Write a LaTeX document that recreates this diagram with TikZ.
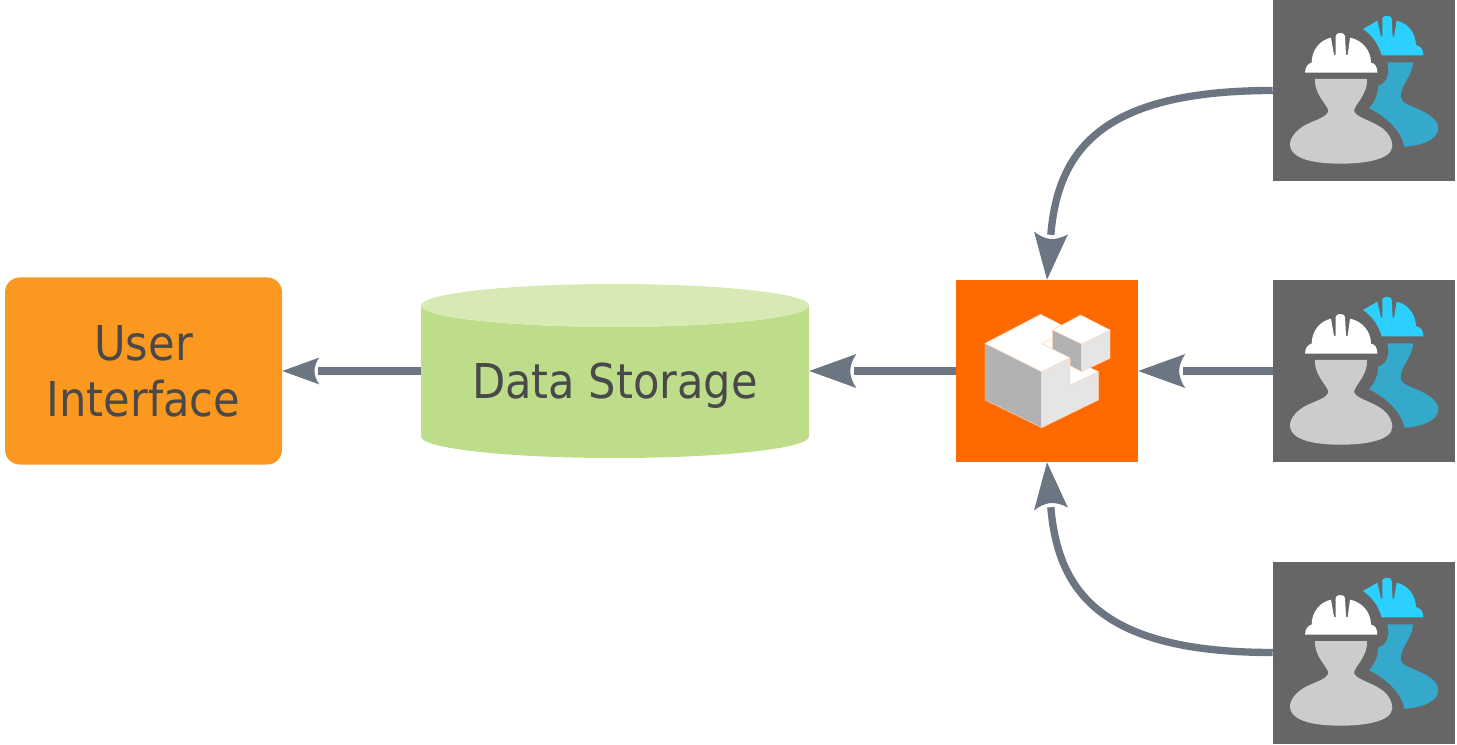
\documentclass[tikz,border=0pt]{standalone}
\usepackage{fontspec}
\setmainfont{DejaVu Sans Condensed}
\usepackage{xcolor}
\usepackage{tikz}
\usetikzlibrary{shapes.geometric, arrows.meta}
\definecolor{flowgrey}{HTML}{6B7682}
\definecolor{uiorange}{HTML}{FA981F}
\definecolor{boxorange}{HTML}{FF6A00}
\definecolor{storeside}{HTML}{BEDD8A}
\definecolor{storetop}{HTML}{D7EAB4}
\definecolor{darkbox}{HTML}{666666}
\definecolor{labelgrey}{HTML}{494949}
\definecolor{hatblue}{HTML}{2BD0FF}
\definecolor{bodyblue}{HTML}{35A9CC}
\definecolor{edgetan}{HTML}{FFD9BF}
\pgfdeclarearrow{
	name=Notched,
	parameters={\the\pgfarrowlength},
	setup code={\pgfarrowssettipend{0pt}\pgfarrowssetbackend{-\pgfarrowlength}\pgfarrowssetlineend{-.96\pgfarrowlength}\pgfarrowssetvisualbackend{-.87\pgfarrowlength}},
	drawing code={
		\pgfpathmoveto{\pgfqpoint{0pt}{0pt}}
		\pgfpathlineto{\pgfpoint{-\pgfarrowlength}{.362\pgfarrowlength}}
		\pgfpathcurveto{\pgfpoint{-.92\pgfarrowlength}{.25\pgfarrowlength}}{\pgfpoint{-.87\pgfarrowlength}{.11\pgfarrowlength}}{\pgfpoint{-.87\pgfarrowlength}{0pt}}
		\pgfpathcurveto{\pgfpoint{-.87\pgfarrowlength}{-.11\pgfarrowlength}}{\pgfpoint{-.92\pgfarrowlength}{-.25\pgfarrowlength}}{\pgfpoint{-\pgfarrowlength}{-.362\pgfarrowlength}}
		\pgfpathclose
		\pgfusepathqfill},
	defaults={length=35.25pt}
}
\tikzset{
	flow/.style={draw=flowgrey,line width=5.5pt,-Notched},
	label text/.style={text=labelgrey,font=\fontsize{36}{42}\selectfont,align=center},
	workerbox/.style={rectangle,fill=darkbox,minimum size=136.5pt,inner sep=0pt},
	worker/.pic={
		\begin{scope}[x=.25pt,y=-.25pt]
			% back person
			\fill [bodyblue] (352,187) -- (429,187) .. controls (429,225) and (392,255) .. (392,290) .. controls (395,312) and (420,315) .. (450,330) .. controls (485,345) and (505,365) .. (505,385) .. controls (505,420) and (450,438) .. (403,440) .. controls (395,395) and (350,350) .. (297,325) .. controls (315,305) and (325,280) .. (325,255) .. controls (345,255) and (362,225) .. cycle;
			\fill [hatblue] (279,87) -- (322,62) -- (333,110) -- (337,110) -- (337,55) .. controls (337,45) and (365,45) .. (365,55) -- (368,110) -- (372,110) -- (380,62) .. controls (415,70) and (437,100) .. (438,135) .. controls (455,140) and (460,150) .. (460,166) -- (335,166) .. controls (325,130) and (305,105) .. cycle;
			% front person
			\fill [white] (105,218) .. controls (105,200) and (115,190) .. (125,188) .. controls (125,150) and (150,120) .. (183,113) -- (192,165) -- (197,165) -- (197,108) .. controls (197,96) and (225,96) .. (225,108) -- (228,165) -- (233,165) -- (240,113) .. controls (275,120) and (303,150) .. (303,188) .. controls (315,190) and (322,200) .. (322,218) -- cycle;
			\fill [black!20] (135,237) -- (291,237) .. controls (293,280) and (262,305) .. (252,330) .. controls (252,350) and (300,360) .. (330,380) .. controls (355,395) and (367,420) .. (367,437) .. controls (367,480) and (280,491) .. (213,491) .. controls (140,491) and (60,480) .. (60,432) .. controls (60,410) and (85,385) .. (110,373) .. controls (140,358) and (175,350) .. (175,330) .. controls (164,305) and (133,280) .. cycle;
		\end{scope}
	}
}
\begin{document}
\begin{tikzpicture}[x=0.75pt,y=-0.75pt]
	\useasboundingbox (0,0) rectangle (1457,745);
	
	% Boxes
	\node [rectangle,rounded corners=11pt,fill=uiorange,minimum width=207.75pt,minimum height=140.25pt,label text] (ui) at (143.5,371) {User\\Interface};
	\node [cylinder,shape border rotate=90,aspect=0.15,minimum width=291pt,minimum height=130.5pt,cylinder uses custom fill,cylinder body fill=storeside,cylinder end fill=storetop,inner sep=0pt,label text,text height=32.5pt,anchor=shape center] (storage) at (615,371) {Data Storage};
	\node [rectangle,fill=boxorange,minimum size=136.5pt,inner sep=0pt] (builder) at (1047,371) {};
	\node [workerbox] (worker top) at (1364,90.5) {};
	\node [workerbox] (worker mid) at (1364,371) {};
	\node [workerbox] (worker bot) at (1364,652.5) {};
	
	% Workers
	\foreach \y in {0,281,562}
	{
		\pic at (1270,\y) {worker};
	}
	
	% Block
	\begin{scope}[shift={(950,275)},x=.25pt,y=-.25pt,draw=edgetan,line width=.3pt]
		\filldraw [fill=black!30] (105,205) -- (275,290) -- (275,458) -- (105,375) -- cycle;
		\filldraw [fill=black!10] (275,290) -- (360,248) -- (360,330) -- (445,290) -- (445,375) -- (275,458) -- cycle;
		\filldraw [fill=white] (105,205) -- (272,118) -- (335,150) -- (308,165) -- (308,190) -- (275,205) -- (360,248) -- (275,290) -- cycle;
		\filldraw [fill=white] (275,205) -- (308,190) -- (308,222) -- cycle;
		\filldraw [fill=white] (360,272) -- (395,290) -- (420,278) -- (445,290) -- (360,330) -- cycle;
		\filldraw [fill=black!30] (308,165) -- (395,207) -- (395,290) -- (362,272) -- (360,248) -- (308,222) -- cycle;
		\filldraw [fill=black!10] (395,207) -- (480,165) -- (480,250) -- (395,290) -- cycle;
		\filldraw [fill=white] (308,165) -- (392,120) -- (480,165) -- (395,207) -- cycle;
	\end{scope}
	
	% Connectors
	\draw [draw=flowgrey,line width=5.5pt,-{Notched[length=27.75pt]}] (ui.east -| storage.west) -- (ui.east);
	\draw [flow] (builder.west) -- (builder.west -| storage.east);
	\draw [flow] (worker mid.west) -- (builder.east);
	\draw [flow] (worker top.west) .. controls +(-171,0) and +(11,-130) .. (builder.north);
	\draw [flow] (worker bot.west) .. controls +(-171,0) and +(11,130) .. (builder.south);
\end{tikzpicture}
\end{document}
